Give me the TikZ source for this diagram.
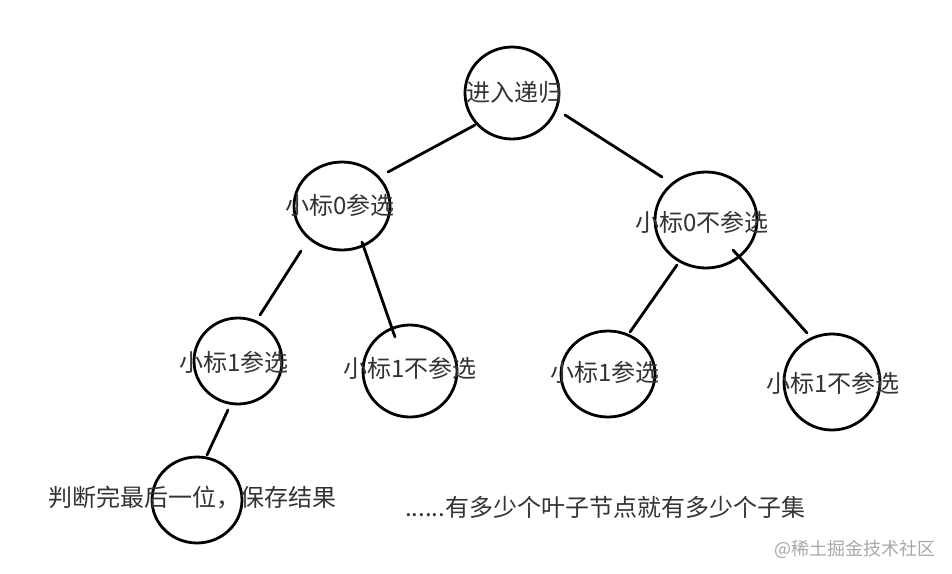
\documentclass[tikz,border=0pt]{standalone}
\usepackage{fontspec}
\setmainfont{Noto Sans CJK SC}
\newfontfamily\cjk{Noto Sans CJK SC}
\usetikzlibrary{shapes.geometric}
\definecolor{txt}{HTML}{333333}
\definecolor{wm}{HTML}{A8A8A8}
\tikzset{
  bubble/.style={draw=black, line width=2.8pt, ellipse, inner sep=0pt},
  lbl/.style={text=txt, inner sep=0pt, font=\cjk\fontsize{24}{28}\selectfont},
  edge/.style={draw=black, line width=2.8pt, line cap=round},
}
\begin{document}
\begin{tikzpicture}[x=1pt,y=-1pt]
\useasboundingbox (0,0) rectangle (952,573);
% circles
\node[bubble, minimum width=94pt, minimum height=92pt] (root) at (512,93) {};
\node[bubble, minimum width=96pt, minimum height=88pt] (L1) at (342,206) {};
\node[bubble, minimum width=102pt, minimum height=96pt] (R1) at (706,220) {};
\node[bubble, minimum width=88pt, minimum height=86pt] (LL) at (238,361) {};
\node[bubble, minimum width=94pt, minimum height=92pt] (LR) at (410,371) {};
\node[bubble, minimum width=94pt, minimum height=86pt] (RL) at (608,374) {};
\node[bubble, minimum width=96pt, minimum height=96pt] (RR) at (832,382) {};
\node[bubble, minimum width=90pt, minimum height=86pt] (leaf) at (197,500) {};
% labels
\node[lbl] (troot) at (514,92) {进入递归};
\node[lbl] (tL1) at (340,205) {小标0参选};
\node[lbl] (tR1) at (702,222) {小标0不参选};
\node[lbl] (tLL) at (234,362) {小标1参选};
\node[lbl] (tLR) at (410,368) {小标1不参选};
\node[lbl] (tRL) at (605,372) {小标1参选};
\node[lbl] (tRR) at (833,383) {小标1不参选};
\node[lbl] (tleaf) at (192,498) {判断完最后一位，保存结果};
\node[lbl, anchor=west, font=\cjk\fontsize{24}{28}\selectfont] (tnote) at (405,507) {......有多少个叶子节点就有多少个子集};
\node[inner sep=0pt, anchor=east, text=wm, font=\cjk\fontsize{18}{21}\selectfont] (wmark) at (936,549) {@稀土掘金技术社区};
% connector end points
\coordinate (a1) at (475,125); \coordinate (a2) at (388,172);
\coordinate (b1) at (565,115); \coordinate (b2) at (662,177);
\coordinate (c1) at (301,251); \coordinate (c2) at (260,315);
\coordinate (d1) at (362,242); \coordinate (d2) at (395,337);
\coordinate (e1) at (677,265); \coordinate (e2) at (630,332);
\coordinate (f1) at (733,250); \coordinate (f2) at (807,333);
\coordinate (g1) at (228,410); \coordinate (g2) at (207,455);
\draw[edge] (a1) -- (a2);
\draw[edge] (b1) -- (b2);
\draw[edge] (c1) -- (c2);
\draw[edge] (d1) -- (d2);
\draw[edge] (e1) -- (e2);
\draw[edge] (f1) -- (f2);
\draw[edge] (g1) -- (g2);
\end{tikzpicture}
\end{document}
